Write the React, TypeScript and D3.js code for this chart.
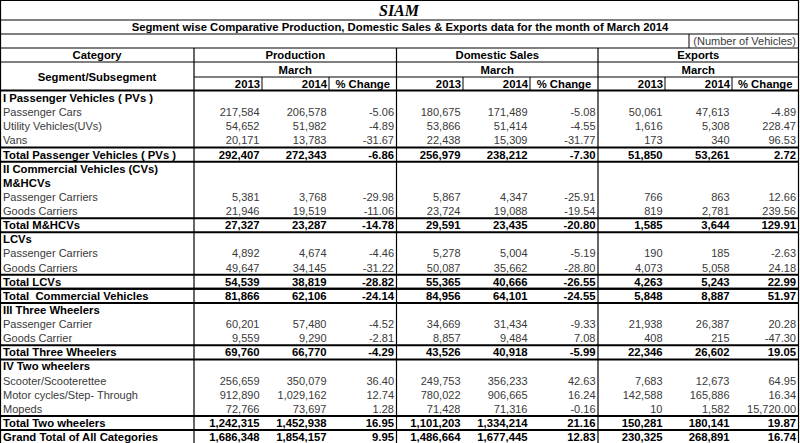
import React from "react";
import * as d3 from "d3";

const W = 800;
const H = 443;

const title = "SIAM";
const subtitle =
  "Segment wise Comparative Production, Domestic Sales & Exports data for the month of March 2014";
const unitNote = "(Number of Vehicles)";
const groups = ["Production", "Domestic Sales", "Exports"];
const periodLabel = "March";
const years = ["2013", "2014", "% Change"];

const rowLabels = [
  "I Passenger Vehicles ( PVs )",
  "Passenger Cars",
  "Utility Vehicles(UVs)",
  "Vans",
  "Total Passenger Vehicles ( PVs )",
  "II Commercial Vehicles (CVs)",
  "M&HCVs",
  "Passenger Carriers",
  "Goods Carriers",
  "Total M&HCVs",
  "LCVs",
  "Passenger Carriers",
  "Goods Carriers",
  "Total LCVs",
  "Total  Commercial Vehicles",
  "III Three Wheelers",
  "Passenger Carrier",
  "Goods Carrier",
  "Total Three Wheelers",
  "IV Two wheelers",
  "Scooter/Scooterettee",
  "Motor cycles/Step- Through",
  "Mopeds",
  "Total Two wheelers",
  "Grand Total of All Categories",
];

const rowTypes = [
  "section", "item", "item", "item", "total",
  "section", "section", "item", "item", "total",
  "section", "item", "item", "total", "total",
  "section", "item", "item", "total",
  "section", "item", "item", "item", "total", "total",
];

const N = null;
const prod2013 = [N, 217584, 54652, 20171, 292407, N, N, 5381, 21946, 27327, N, 4892, 49647, 54539, 81866, N, 60201, 9559, 69760, N, 256659, 912890, 72766, 1242315, 1686348];
const prod2014 = [N, 206578, 51982, 13783, 272343, N, N, 3768, 19519, 23287, N, 4674, 34145, 38819, 62106, N, 57480, 9290, 66770, N, 350079, 1029162, 73697, 1452938, 1854157];
const prodChg = [N, -5.06, -4.89, -31.67, -6.86, N, N, -29.98, -11.06, -14.78, N, -4.46, -31.22, -28.82, -24.14, N, -4.52, -2.81, -4.29, N, 36.4, 12.74, 1.28, 16.95, 9.95];
const dom2013 = [N, 180675, 53866, 22438, 256979, N, N, 5867, 23724, 29591, N, 5278, 50087, 55365, 84956, N, 34669, 8857, 43526, N, 249753, 780022, 71428, 1101203, 1486664];
const dom2014 = [N, 171489, 51414, 15309, 238212, N, N, 4347, 19088, 23435, N, 5004, 35662, 40666, 64101, N, 31434, 9484, 40918, N, 356233, 906665, 71316, 1334214, 1677445];
const domChg = [N, -5.08, -4.55, -31.77, -7.3, N, N, -25.91, -19.54, -20.8, N, -5.19, -28.8, -26.55, -24.55, N, -9.33, 7.08, -5.99, N, 42.63, 16.24, -0.16, 21.16, 12.83];
const exp2013 = [N, 50061, 1616, 173, 51850, N, N, 766, 819, 1585, N, 190, 4073, 4263, 5848, N, 21938, 408, 22346, N, 7683, 142588, 10, 150281, 230325];
const exp2014 = [N, 47613, 5308, 340, 53261, N, N, 863, 2781, 3644, N, 185, 5058, 5243, 8887, N, 26387, 215, 26602, N, 12673, 165886, 1582, 180141, 268891];
const expChg = [N, -4.89, 228.47, 96.53, 2.72, N, N, 12.66, 239.56, 129.91, N, -2.63, 24.18, 22.99, 51.97, N, 20.28, -47.3, 19.05, N, 64.95, 16.34, 15720.0, 19.87, 16.74];

const valueColumns = [prod2013, prod2014, prodChg, dom2013, dom2014, domChg, exp2013, exp2014, expChg];
const isPctColumn = [false, false, true, false, false, true, false, false, true];

const FONT = "'Liberation Sans', Arial, Helvetica, sans-serif";
const GREY = "#3a3a3a";
const BOLD_SIZE = 11.3;

export default function App() {
  const colEdges = [0, 194, 262, 329, 396.5, 463, 530, 598, 665, 732, 798.5];
  const groupEdges = [194, 396.5, 598, 798.5];
  const headerLines = [0.5, 20, 34, 48, 62, 77, 90.5];
  const bodyTop = 91;
  const rowStep = 14.125;

  const y = d3
    .scaleBand<number>()
    .domain(d3.range(rowLabels.length))
    .range([bodyTop, bodyTop + rowStep * rowLabels.length])
    .paddingInner(0)
    .paddingOuter(0);

  const locale = d3.formatLocale({
    decimal: ".",
    thousands: ",",
    grouping: [3],
    currency: ["", ""],
    minus: "-",
  });
  const fmtInt = locale.format(",");
  const fmtPct = locale.format(",.2f");
  const bottom = bodyTop + rowStep * rowLabels.length;

  const lines: React.ReactNode[] = [];
  lines.push(<line key="lb" x1={0.5} x2={0.5} y1={0} y2={bottom} stroke="#000" strokeWidth={1.2} />);
  lines.push(<line key="rb" x1={798.5} x2={798.5} y1={0} y2={bottom} stroke="#000" strokeWidth={1.2} />);
  headerLines.forEach((hy, i) => {
    if (i === 5) {
      lines.push(
        <line key={"h" + i} x1={194} x2={798.5} y1={hy} y2={hy} stroke="#000" strokeWidth={1} />
      );
    } else {
      lines.push(
        <line key={"h" + i} x1={0} x2={798.5} y1={hy} y2={hy} stroke="#000" strokeWidth={i === 6 ? 2 : 1} />
      );
    }
  });
  groupEdges.slice(0, 3).forEach((gx, i) => {
    lines.push(<line key={"gv" + i} x1={gx} x2={gx} y1={48} y2={bottom} stroke="#000" strokeWidth={1.2} />);
  });
  [colEdges[2], colEdges[3], colEdges[5], colEdges[6], colEdges[8], colEdges[9]].forEach((vx, i) => {
    lines.push(<line key={"yv" + i} x1={vx} x2={vx} y1={77} y2={91} stroke="#000" strokeWidth={1} />);
  });
  lines.push(<line key="unitb" x1={689} x2={689} y1={34} y2={48} stroke="#000" strokeWidth={1} />);

  rowTypes.forEach((t, i) => {
    if (t === "total") {
      const top = y(i)!;
      const bot = top + y.bandwidth();
      lines.push(<line key={"tt" + i} x1={0} x2={798.5} y1={top} y2={top} stroke="#000" strokeWidth={2} />);
      lines.push(<line key={"tb" + i} x1={0} x2={798.5} y1={bot} y2={bot} stroke="#000" strokeWidth={2} />);
    }
  });

  const headerText: React.ReactNode[] = [];
  headerText.push(
    <text key="title" x={399} y={16} textAnchor="middle" fontFamily="'Liberation Serif', 'Times New Roman', serif" fontWeight="bold" fontStyle="italic" fontSize={16} fill="#000">
      {title}
    </text>
  );
  headerText.push(
    <text key="sub" x={400} y={31} textAnchor="middle" fontFamily={FONT} fontWeight="bold" fontSize={BOLD_SIZE} fill="#000">
      {subtitle}
    </text>
  );
  headerText.push(
    <text key="unit" x={796} y={45} textAnchor="end" fontFamily={FONT} fontSize={11} fill={GREY}>
      {unitNote}
    </text>
  );
  headerText.push(
    <text key="cat" x={97} y={59} textAnchor="middle" fontFamily={FONT} fontWeight="bold" fontSize={BOLD_SIZE} fill="#000">
      Category
    </text>
  );
  headerText.push(
    <text key="seg" x={97} y={81} textAnchor="middle" fontFamily={FONT} fontWeight="bold" fontSize={BOLD_SIZE} fill="#000">
      Segment/Subsegment
    </text>
  );
  groups.forEach((g, gi) => {
    const cx = (groupEdges[gi] + groupEdges[gi + 1]) / 2;
    headerText.push(
      <text key={"g" + gi} x={cx} y={59} textAnchor="middle" fontFamily={FONT} fontWeight="bold" fontSize={BOLD_SIZE} fill="#000">
        {g}
      </text>
    );
    headerText.push(
      <text key={"m" + gi} x={cx} y={73.5} textAnchor="middle" fontFamily={FONT} fontWeight="bold" fontSize={BOLD_SIZE} fill="#000">
        {periodLabel}
      </text>
    );
    years.forEach((yr, yi) => {
      const ci = 1 + gi * 3 + yi;
      const isPct = yi === 2;
      headerText.push(
        <text
          key={"y" + gi + yi}
          x={isPct ? (colEdges[ci] + colEdges[ci + 1]) / 2 : colEdges[ci + 1] - 2}
          y={88}
          textAnchor={isPct ? "middle" : "end"}
          fontFamily={FONT}
          fontWeight="bold"
          fontSize={BOLD_SIZE}
          fill="#000"
        >
          {yr}
        </text>
      );
    });
  });

  const body: React.ReactNode[] = [];
  rowLabels.forEach((label, i) => {
    const t = rowTypes[i];
    const bold = t !== "item";
    const fill = bold ? "#000" : GREY;
    const by = y(i)! + 11;
    body.push(
      <text key={"l" + i} x={3} y={by} fontFamily={FONT} fontWeight={bold ? "bold" : "normal"} fontSize={bold ? BOLD_SIZE : 11} fill={fill} style={{ whiteSpace: "pre" }}>
        {label}
      </text>
    );
    valueColumns.forEach((col, ci) => {
      const v = col[i];
      if (v === null || v === undefined) return;
      body.push(
        <text
          key={"v" + i + "_" + ci}
          x={colEdges[ci + 2] - 2.5}
          y={by}
          textAnchor="end"
          fontFamily={FONT}
          fontWeight={bold ? "bold" : "normal"}
          fontSize={bold ? BOLD_SIZE : 11}
          fill={fill}
        >
          {isPctColumn[ci] ? fmtPct(v) : fmtInt(v)}
        </text>
      );
    });
  });

  return (
    <svg
      width={W}
      height={H}
      viewBox={`0 0 ${W} ${H}`}
      style={{ position: "absolute", left: 0, top: 0, background: "#fff" }}
    >
      <rect x={0} y={0} width={W} height={H} fill="#fff" />
      {headerText}
      {body}
      {lines}
    </svg>
  );
}
